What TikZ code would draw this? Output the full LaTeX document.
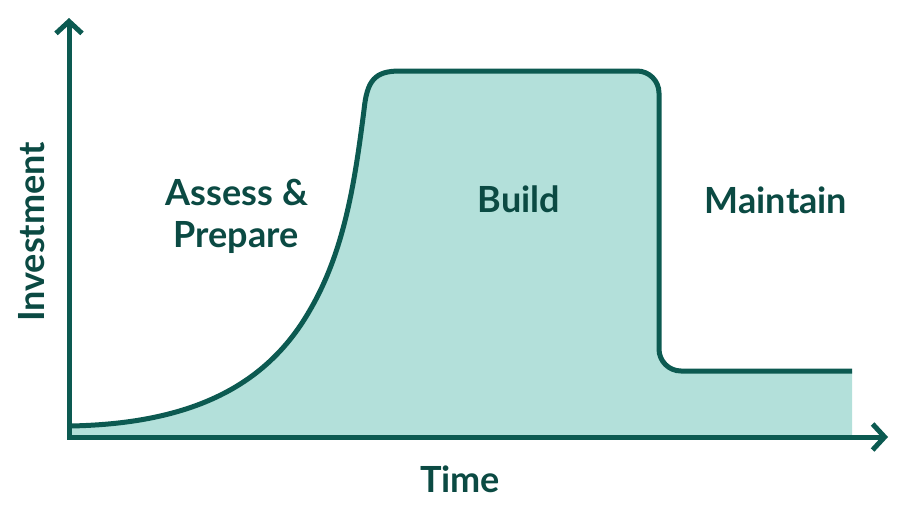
\documentclass[tikz,border=0pt]{standalone}
\usepackage{fontspec}
\setmainfont{Lato}
\usetikzlibrary{arrows.meta}
\definecolor{strokec}{HTML}{0C5A51}
\definecolor{textc}{HTML}{0B4A43}
\definecolor{fillc}{HTML}{B3E0DA}
\tikzset{
  lbl/.style={font=\bfseries\fontsize{36}{42}\selectfont, text=textc, inner sep=0pt, anchor=base, align=center},
  axisline/.style={line width=5pt, draw=strokec, line join=miter},
  curveline/.style={line width=5pt, draw=strokec, line cap=butt},
}
\begin{document}
\begin{tikzpicture}[x=1pt,y=-1pt]
\useasboundingbox (0,0) rectangle (900,507);
% fill
\fill[fillc] (69,426) .. controls (200,424) and (270,380) .. (310,310)
  .. controls (345,250) and (355,180) .. (364,110)
  .. controls (367,80) and (375,71) .. (400,71)
  [rounded corners=22pt] -- (659,71) -- (659,371) [sharp corners] -- (852,371)
  -- (852,437) -- (69,437) -- cycle;
% curve
\draw[curveline] (69,426) .. controls (200,424) and (270,380) .. (310,310)
  .. controls (345,250) and (355,180) .. (364,110)
  .. controls (367,80) and (375,71) .. (400,71)
  [rounded corners=22pt] -- (659,71) -- (659,371) -- (852,371);
% axes
\coordinate (ytip) at (69,18);
\coordinate (orig) at (69,437);
\coordinate (xtip) at (888,437);
\draw[axisline, {Straight Barb[length=12pt,width=26pt]}-{Straight Barb[length=12pt,width=26pt]}] (ytip) -- (orig) -- (xtip);
% labels
\node[lbl] (assess) at (237,205) {Assess \&};
\node[lbl] (prepare) at (236,247) {Prepare};
\node[lbl] (build) at (519,212) {Build};
\node[lbl] (maintain) at (776,213) {Maintain};
\node[lbl] (time) at (460,492) {Time};
\node[lbl, rotate=90] (invest) at (44,232) {Investment};
\end{tikzpicture}
\end{document}
